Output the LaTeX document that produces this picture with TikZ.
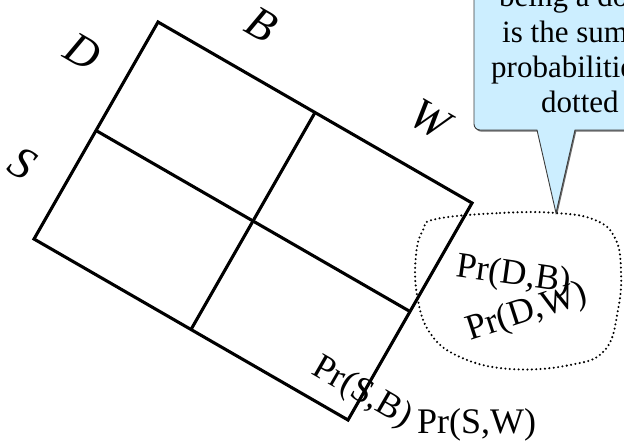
\documentclass[tikz,border=0pt]{standalone}
\usepackage{fontspec}
\setmainfont{Liberation Serif}
\definecolor{calloutfill}{RGB}{204,238,255}
\definecolor{calloutdraw}{RGB}{60,60,60}
\definecolor{calloutshadow}{RGB}{110,110,110}
\begin{document}
\begin{tikzpicture}[x=1pt,y=-1pt,
  gridline/.style={line width=3.1pt, line join=miter},
  axislabel/.style={font=\fontsize{45}{45}\selectfont\itshape, rotate=-30, inner sep=0pt},
  prlabel/.style={font=\fontsize{36}{36}\selectfont, inner sep=0pt},
  calltext/.style={font=\fontsize{31}{36}\selectfont, anchor=base west, inner sep=0pt},
  blob/.style={line width=2.3pt, line cap=round, dash pattern=on 0pt off 4.4pt}]
\useasboundingbox (0,0) rectangle (624,442);
\clip (0,0) rectangle (624,442);
% grid corners
\coordinate (a00) at (158,22);
\coordinate (a10) at (315,112.5);
\coordinate (a20) at (472,203);
\coordinate (a01) at (96,130.5);
\coordinate (a11) at (253,221);
\coordinate (a21) at (410,311.5);
\coordinate (a02) at (34,239);
\coordinate (a12) at (191,329.5);
\coordinate (a22) at (348,420);
% callout shadow and body
\fill[calloutshadow, shift={(1.2,1.6)}]
  (474,-10) [rounded corners=6pt] -- (474,130) [sharp corners] -- (537,130)
  -- (556,213) -- (575,130) -- (640,130) -- (640,-10) -- cycle;
\draw[fill=calloutfill, draw=calloutdraw, line width=0.9pt]
  (474,-10) [rounded corners=6pt] -- (474,130) [sharp corners] -- (537,130)
  -- (556,213) -- (575,130) -- (640,130) -- (640,-10) -- cycle;
\node[calltext] (c1) at (499,6) {being a double};
\node[calltext] (c2) at (502,42) {is the sum of the};
\node[calltext] (c3) at (491,77) {probabilities in the};
\node[calltext] (c4) at (541,112) {dotted area};
% grid
\draw[gridline] (a00) -- (a20) -- (a22) -- (a02) -- cycle;
\draw[gridline] (a01) -- (a21);
\draw[gridline] (a10) -- (a12);
% axis labels
\node[axislabel] (lD) at (83,52) {D};
\node[axislabel] (lS) at (23,163) {S};
\node[axislabel] (lB) at (262,25) {B};
\node[axislabel] (lW) at (430,119) {W};
% dotted region
\draw[blob] plot[smooth cycle, tension=0.7] coordinates {
  (436,219) (500,213) (556,213) (595,220) (615,238) (621,270) (618,310)
  (605,350) (570,365) (510,369) (460,357) (430,333) (417,295) (416,255) (423,230)};
% probability labels
\node[prlabel, rotate=-8] (pDB) at (514,276) {Pr(D,B)};
\node[prlabel, rotate=18] (pDW) at (527,313) {Pr(D,W)};
\node[prlabel, rotate=-30] (pSB) at (362,393) {Pr(S,B)};
\node[prlabel, anchor=base west] (pSW) at (417,433) {Pr(S,W)};
\end{tikzpicture}
\end{document}
